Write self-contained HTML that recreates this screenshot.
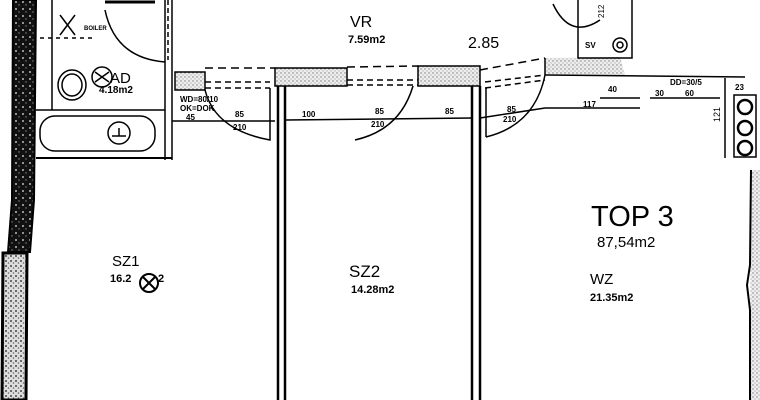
<!DOCTYPE html>
<html><head><meta charset="utf-8"><style>
html,body{margin:0;padding:0;background:#fff}
svg{display:block}
text{font-family:"Liberation Sans",sans-serif;fill:#000}
</style></head><body>
<svg width="760" height="400" viewBox="0 0 760 400" xmlns="http://www.w3.org/2000/svg">
<defs>
<pattern id="dots" width="4" height="4" patternUnits="userSpaceOnUse">
<rect width="4" height="4" fill="#eee"/><circle cx="1" cy="1" r="0.7" fill="#777"/><circle cx="3" cy="3" r="0.6" fill="#999"/>
</pattern>
<pattern id="spk" width="7" height="7" patternUnits="userSpaceOnUse">
<rect width="7" height="7" fill="#111"/><circle cx="2" cy="2" r="1" fill="#bbb"/><circle cx="5" cy="5" r="0.7" fill="#888"/>
</pattern>
<pattern id="spk2" width="5" height="5" patternUnits="userSpaceOnUse">
<rect width="5" height="5" fill="#ddd"/><circle cx="1" cy="1" r="1" fill="#444"/><circle cx="3.5" cy="3" r="0.8" fill="#666"/>
</pattern>
</defs>
<g fill="none" stroke="#000" stroke-width="1.5">
<!-- left outer wall -->
<polygon points="13,0 36,0 34,200 30,252 8,252 12,200" fill="url(#spk)" stroke="#000" stroke-width="2"/>
<polygon points="3,253 27,253 26,400 2,400" fill="url(#spk2)" stroke="#000" stroke-width="3"/>
<!-- bathroom -->
<line x1="52" y1="0" x2="52" y2="110"/>
<line x1="36" y1="110" x2="165" y2="110"/>
<line x1="36" y1="158" x2="172" y2="158" stroke-width="2"/>
<line x1="165" y1="0" x2="165" y2="160"/>
<line x1="172" y1="0" x2="172" y2="160"/>
<line x1="168" y1="0" x2="168" y2="60" stroke-dasharray="5,3"/>
<rect x="40" y="116" width="115" height="35" rx="15"/>
<circle cx="119" cy="133" r="11"/><line x1="112" y1="136" x2="126" y2="136"/><line x1="119" y1="128" x2="119" y2="136"/>
<ellipse cx="72" cy="85" rx="14" ry="15"/><ellipse cx="72" cy="85" rx="10" ry="11"/>
<circle cx="102" cy="77" r="10"/><path d="M95,72 L109,82 M95,82 L109,72"/>
<path d="M105,10 Q115,58 165,62"/>
<line x1="105" y1="2" x2="155" y2="2" stroke-width="3"/>
<line x1="40" y1="38" x2="95" y2="38" stroke-dasharray="4,4"/>
<path d="M60,15 L75,35 M75,15 L60,35"/>
<!-- corridor -->
<rect x="175" y="72" width="30" height="18" fill="url(#dots)"/>
<rect x="275" y="68" width="72" height="18" fill="url(#dots)"/>
<rect x="418" y="66" width="62" height="20" fill="url(#dots)"/>
<polygon points="545,58 620,57 625,75 545,75" fill="url(#dots)" stroke="none"/>
<line x1="545" y1="58" x2="545" y2="75"/>
<path d="M205,68 L275,68 M347,67 L418,66 M480,70 L545,58" stroke-dasharray="8,5"/>
<path d="M205,82 L270,82 M205,88 L270,88 M347,80 L418,80 M347,85 L418,85 M485,82 L545,75 M485,88 L545,80" stroke-dasharray="6,4"/>
<line x1="172" y1="121" x2="275" y2="121"/>
<line x1="286" y1="120" x2="472" y2="118"/>
<line x1="480" y1="118" x2="545" y2="108"/>
<line x1="545" y1="108" x2="640" y2="108"/>
<line x1="600" y1="98" x2="640" y2="98"/>
<line x1="650" y1="98" x2="720" y2="98"/>
<line x1="545" y1="75" x2="745" y2="77"/>
<!-- doors -->
<path d="M205,90 Q215,130 270,140 L270,88"/>
<path d="M355,140 Q400,130 413,86"/>
<path d="M486,137 Q535,125 545,75 M486,88 L486,137"/>
<path d="M553,4 Q570,40 600,20"/>
<!-- structure walls -->
<line x1="278" y1="86" x2="278" y2="400" stroke-width="2.5"/>
<line x1="285" y1="86" x2="285" y2="400" stroke-width="2.5"/>
<line x1="472" y1="86" x2="472" y2="400" stroke-width="2.5"/>
<line x1="480" y1="86" x2="480" y2="400" stroke-width="2.5"/>
<!-- top right box -->
<path d="M578,0 L578,58 L632,58 L632,0"/>
<circle cx="620" cy="45" r="7"/><circle cx="620" cy="45" r="3"/>
<!-- chimney -->
<rect x="734" y="95" width="22" height="62"/>
<circle cx="745" cy="107" r="7" stroke-width="2.5"/>
<circle cx="745" cy="128" r="7" stroke-width="2.5"/>
<circle cx="745" cy="148" r="7" stroke-width="2.5"/>
<line x1="725" y1="78" x2="725" y2="158"/>
<!-- right wall -->
<polygon points="751,170 760,170 760,400 750,400" fill="url(#dots)" stroke="none"/>
<path d="M751,170 L750,265 L747,285 L750,310 L750,400" stroke-width="2"/>
</g>
<g font-size="8" font-weight="bold">
<text x="180" y="102">WD=80/10</text>
<text x="180" y="111">OK=DOK</text>
<text x="186" y="120">45</text>
<text x="235" y="117">85</text><text x="233" y="130">210</text>
<text x="302" y="117">100</text>
<text x="375" y="114">85</text><text x="371" y="127">210</text>
<text x="445" y="114">85</text>
<text x="507" y="112">85</text><text x="503" y="122">210</text>
<text x="583" y="107">117</text>
<text x="608" y="92">40</text>
<text x="655" y="96">30</text><text x="685" y="96">60</text>
<text x="670" y="85">DD=30/5</text>
<text x="735" y="90">23</text>
<text x="84" y="30" font-size="6">BOILER</text>
<text x="585" y="48">SV</text>
</g>
<text x="720" y="122" font-size="9" transform="rotate(-90 720 122)">121</text>
<text x="604" y="18" font-size="8" transform="rotate(-90 604 18)">212</text>
<text x="110" y="83" font-size="15">AD</text>
<text x="99" y="93" font-size="10" font-weight="bold">4.18m2</text>
<text x="350" y="27" font-size="16">VR</text>
<text x="348" y="43" font-size="11" font-weight="bold">7.59m2</text>
<text x="468" y="48" font-size="16">2.85</text>
<text x="591" y="226" font-size="29">TOP 3</text>
<text x="597" y="247" font-size="15">87,54m2</text>
<text x="590" y="284" font-size="15">WZ</text>
<text x="590" y="301" font-size="11" font-weight="bold">21.35m2</text>
<text x="349" y="277" font-size="17">SZ2</text>
<text x="351" y="293" font-size="11" font-weight="bold">14.28m2</text>
<text x="112" y="266" font-size="15">SZ1</text>
<text x="110" y="282" font-size="11" font-weight="bold">16.2</text><text x="158" y="282" font-size="11" font-weight="bold">2</text>
<g fill="none" stroke="#000" stroke-width="2"><circle cx="149" cy="283" r="9"/><path d="M143,277 L155,289 M155,277 L143,289"/></g>
</svg>
</body></html>
